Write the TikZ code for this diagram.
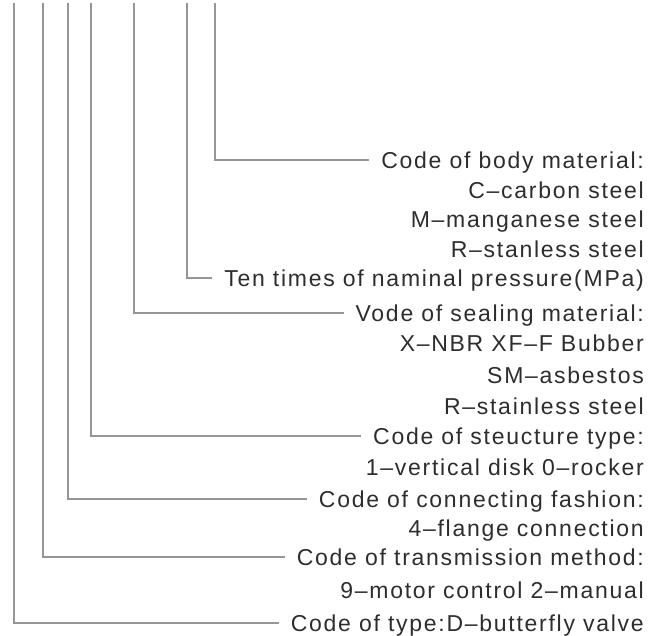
\documentclass[tikz,border=0pt]{standalone}
\usepackage{fontspec}
\newfontfamily\codefont{Liberation Sans}[LetterSpace=7.5]
\usetikzlibrary{positioning}
\definecolor{leadgray}{RGB}{150,150,150}
\definecolor{textgray}{RGB}{45,45,45}

\begin{document}
\begin{tikzpicture}[x=1pt,y=-1pt,
  lead/.style={draw=leadgray,line width=1.4pt},
  code/.style={anchor=east,inner sep=0pt,text height=16.5pt,text depth=0pt,
    text=textgray,font=\codefont\fontsize{23}{27}\selectfont}]
  \useasboundingbox (0,0) rectangle (658,635);
  % --- horni konce svislych car ---
  \coordinate (v1) at (14,3);
  \coordinate (v2) at (43,3);
  \coordinate (v3) at (68,3);
  \coordinate (v4) at (91,3);
  \coordinate (v5) at (134,3);
  \coordinate (v6) at (187,3);
  \coordinate (v7) at (215,3);
  % --- popisky ---
  \node[code] (body)  at (644,160) {Code of body material:};
  \node[code] (carb)  at (644,190) {C–carbon steel};
  \node[code] (mang)  at (644,219) {M–manganese steel};
  \node[code] (stan)  at (644,249) {R–stanless steel};
  \node[code] (press) at (644,278) {Ten times of naminal pressure(MPa)};
  \node[code] (seal)  at (644,313) {Vode of sealing material:};
  \node[code] (nbr)   at (644,343) {X–NBR XF–F Bubber};
  \node[code] (asb)   at (644,375) {SM–asbestos};
  \node[code] (rst)   at (644,406) {R–stainless steel};
  \node[code] (struc) at (644,436) {Code of steucture type:};
  \node[code] (disk)  at (644,467) {1–vertical disk 0–rocker};
  \node[code] (conn)  at (644,499) {Code of connecting fashion:};
  \node[code] (flan)  at (644,528) {4–flange connection};
  \node[code] (trans) at (644,557) {Code of transmission method:};
  \node[code] (motor) at (644,590) {9–motor control 2–manual};
  \node[code] (type)  at (644,623) {Code of type:D–butterfly valve};
  % --- vodici cary ---
  \draw[lead,shorten >=12pt] (v7) |- (body.west);
  \draw[lead,shorten >=12pt] (v6) |- (press.west);
  \draw[lead,shorten >=12pt] (v5) |- (seal.west);
  \draw[lead,shorten >=12pt] (v4) |- (struc.west);
  \draw[lead,shorten >=12pt] (v3) |- (conn.west);
  \draw[lead,shorten >=12pt] (v2) |- (trans.west);
  \draw[lead,shorten >=12pt] (v1) |- (type.west);
\end{tikzpicture}
\end{document}
